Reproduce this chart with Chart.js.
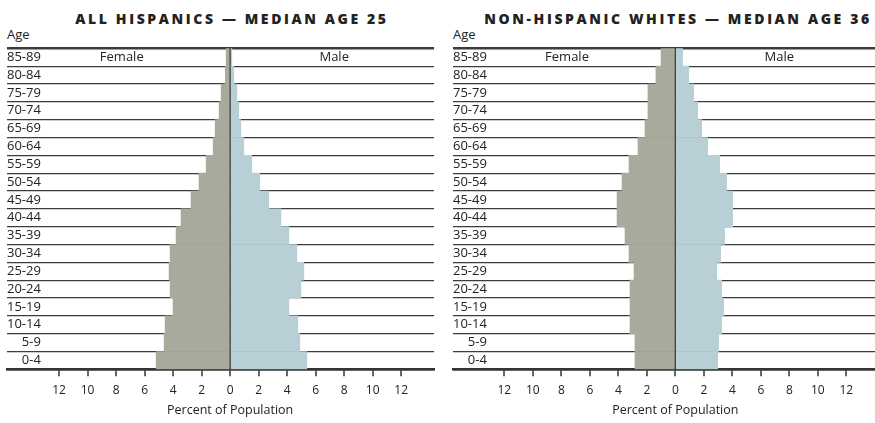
<!DOCTYPE html>
<html>
<head>
<meta charset="utf-8">
<script src="https://cdn.jsdelivr.net/npm/chart.js@4.4.1/dist/chart.umd.min.js"></script>
<style>
  html, body { margin: 0; padding: 0; background: #fff; }
  body { width: 875px; height: 423px; position: relative; overflow: hidden;
         font-family: "Open Sans", sans-serif; color: #222; }
  .panel { position: absolute; top: 0; height: 423px; }
  .panel canvas { position: absolute; left: 0; top: 0; }
  .title { position: absolute; top: 12px; line-height: 14px; transform: translateX(-50%);
           white-space: nowrap; font-weight: 800; font-size: 14px; letter-spacing: 2.6px; color: #222; }
  .age { position: absolute; top: 28px; line-height: 13px; font-size: 13px; }
</style>
</head>
<body>
  <div class="title" style="left:232px;">ALL HISPANICS — MEDIAN AGE 25</div>
  <div class="age" style="left:7px;">Age</div>
  <div class="panel" style="left:0; width:437px;"><canvas id="hispanicChart"></canvas></div>

  <div class="title" style="left:678px;">NON-HISPANIC WHITES — MEDIAN AGE 36</div>
  <div class="age" style="left:453px;">Age</div>
  <div class="panel" style="left:440px; width:435px;"><canvas id="whiteChart"></canvas></div>

<script>
// age groups, top row first
const ageGroups = ["85-89", "80-84", "75-79", "70-74", "65-69", "60-64", "55-59", "50-54", "45-49",
                   "40-44", "35-39", "30-34", "25-29", "20-24", "15-19", "10-14", "5-9", "0-4"];

// percent of population
const hispanicFemale = [0.28, 0.33, 0.63, 0.77, 1.05, 1.19, 1.68, 2.18, 2.74,
                        3.44, 3.79, 4.21, 4.28, 4.21, 4.0, 4.56, 4.63, 5.19];
const hispanicMale   = [0.12, 0.26, 0.47, 0.61, 0.75, 0.96, 1.52, 2.08, 2.71,
                        3.56, 4.12, 4.68, 5.17, 4.96, 4.12, 4.75, 4.89, 5.38];
const whiteFemale    = [1.0, 1.36, 1.92, 1.92, 2.13, 2.62, 3.25, 3.74, 4.09,
                        4.09, 3.53, 3.25, 2.9, 3.18, 3.18, 3.18, 2.83, 2.83];
const whiteMale      = [0.51, 0.94, 1.29, 1.57, 1.85, 2.27, 3.11, 3.6, 4.02,
                        4.02, 3.46, 3.18, 2.9, 3.25, 3.39, 3.25, 3.04, 2.97];

const sideLabels = ["Female", "Male"];
const xAxisTitle = "Percent of Population";

Chart.defaults.font.family = "'Open Sans', sans-serif";
Chart.defaults.color = "#222";

const FEMALE_COLOR = "#a9a99c";
const MALE_COLOR = "#b9cfd6";
const LINE_COLOR = "#3c3c3c";

// Female / Male in the top row, axis title centred on zero
const pyramidLabels = {
    id: "pyramidLabels",
    afterDraw(chart) {
        const ctx = chart.ctx;
        const x = chart.scales.x;
        const y = chart.scales.y;
        ctx.save();
        ctx.fillStyle = "#222";
        ctx.textAlign = "center";
        ctx.textBaseline = "middle";
        ctx.font = "13px 'Open Sans', sans-serif";
        ctx.fillText(sideLabels[0], x.getPixelForValue(-7.6), y.getPixelForValue(0));
        ctx.fillText(sideLabels[1], x.getPixelForValue(7.3), y.getPixelForValue(0));
        ctx.font = "12.5px 'Open Sans', sans-serif";
        ctx.fillText(xAxisTitle, x.getPixelForValue(0), chart.chartArea.bottom + 41);
        ctx.restore();
    }
};

function drawPyramid(canvasId, female, male, xMin, xMax, padLeft, padRight, width) {
    const canvas = document.getElementById(canvasId);
    canvas.width = width;
    canvas.height = 423;
    canvas.style.width = width + "px";
    canvas.style.height = "423px";

    return new Chart(canvas.getContext("2d"), {
        type: "bar",
        data: {
            labels: ageGroups,
            datasets: [
                { label: "Female", data: female.map(v => -v), backgroundColor: FEMALE_COLOR,
                  borderWidth: 0, barPercentage: 1, categoryPercentage: 1 },
                { label: "Male", data: male, backgroundColor: MALE_COLOR,
                  borderWidth: 0, barPercentage: 1, categoryPercentage: 1 }
            ]
        },
        options: {
            indexAxis: "y",
            responsive: false,
            animation: false,
            layout: { padding: { left: padLeft, right: padRight, top: 48.3, bottom: 0 } },
            plugins: {
                legend: { display: false },
                tooltip: { enabled: false },
                title: { display: false }
            },
            scales: {
                x: {
                    type: "linear",
                    stacked: true,
                    min: xMin,
                    max: xMax,
                    z: 1,
                    afterFit: (scale) => { scale.height = 53.7; },
                    afterBuildTicks: (scale) => {
                        scale.ticks = scale.ticks.filter(t => Math.abs(t.value) <= 12);
                    },
                    ticks: {
                        stepSize: 2,
                        padding: 7,
                        autoSkip: false,
                        maxRotation: 0,
                        font: { size: 12 },
                        color: "#222",
                        callback: (v) => Math.abs(v)
                    },
                    grid: {
                        drawOnChartArea: true,
                        color: (c) => (c.tick && c.tick.value === 0 ? "#444" : "rgba(0,0,0,0)"),
                        lineWidth: 2,
                        tickColor: "#333",
                        tickWidth: 1.5,
                        tickLength: 7
                    },
                    border: { display: true, color: "#333", width: 2.5 }
                },
                y: {
                    type: "category",
                    stacked: true,
                    z: 1,
                    afterFit: (scale) => { scale.width = 0; },
                    ticks: {
                        mirror: true,
                        crossAlign: "far",
                        autoSkip: false,
                        padding: 0,
                        font: { size: 13 },
                        color: "#222"
                    },
                    grid: {
                        offset: true,
                        drawTicks: false,
                        color: LINE_COLOR,
                        lineWidth: (c) => (c.index === 0 || c.index === undefined ? 2.5 : 1.2)
                    },
                    border: { display: false }
                }
            }
        },
        plugins: [pyramidLabels]
    });
}

drawPyramid("hispanicChart", hispanicFemale, hispanicMale, -15.65, 14.3, 7, 3, 437);
drawPyramid("whiteChart", whiteFemale, whiteMale, -15.6, 14.01, 13, 0, 435);
</script>
</body>
</html>
